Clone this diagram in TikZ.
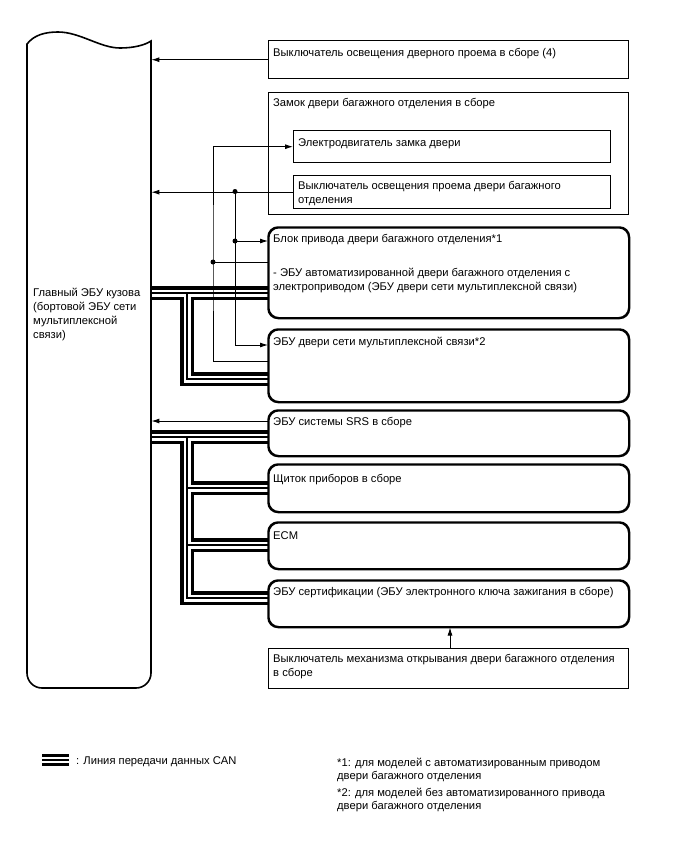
\documentclass[tikz,border=0pt]{standalone}
\usepackage{fontspec}
\setmainfont{Liberation Sans}
\usetikzlibrary{arrows.meta}
\begin{document}
\begin{tikzpicture}[x=1pt,y=-1pt,
  font=\fontsize{11.2}{14}\selectfont,
  sqbox/.style={draw, line width=1.4pt, fill=white, anchor=north west, inner sep=0pt},
  rbox/.style={sqbox, rounded corners=10pt, line width=1.5pt},
  lbl/.style={anchor=base west, inner sep=0pt, align=left},
  sig/.style={line width=0.9pt},
  arr/.style={-{Latex[length=8pt,width=5pt]}},
  dot/.style={circle, fill=black, inner sep=0pt, minimum size=5pt},
  line join=miter]
\useasboundingbox (0,0) rectangle (688,852);

% main box (frame node)
\node[inner sep=0pt, minimum width=124pt, minimum height=656pt, anchor=north west] (main) at (27,32) {};

% right-hand boxes
\node[sqbox, minimum width=360pt, minimum height=38pt] (door) at (268,40) {};
\node[sqbox, minimum width=360pt, minimum height=122pt] (lock) at (268,92) {};
\node[sqbox, minimum width=317pt, minimum height=32pt] (motor) at (293,130) {};
\node[sqbox, minimum width=317pt, minimum height=33pt] (sw) at (293,175) {};
\node[rbox, minimum width=360pt, minimum height=90pt] (blok) at (268,227) {};
\node[rbox, minimum width=360pt, minimum height=72pt] (edoor) at (268,329) {};
\node[rbox, minimum width=360pt, minimum height=45pt] (srs) at (268,410) {};
\node[rbox, minimum width=360pt, minimum height=47pt] (shch) at (268,464) {};
\node[rbox, minimum width=360pt, minimum height=46pt] (ecm) at (268,522) {};
\node[rbox, minimum width=360pt, minimum height=46pt] (cert) at (268,580) {};
\node[sqbox, minimum width=360pt, minimum height=40pt] (mech) at (268,648) {};

% CAN bus junction coordinates
\coordinate (c1) at (187,293);
\coordinate (c2) at (187,379);
\coordinate (c3) at (187,437);
\coordinate (c4) at (187,488);
\coordinate (c5) at (187,545);
\coordinate (c6) at (187,598);
\coordinate (lg1) at (42,760);
\coordinate (lg2) at (69,760);

% CAN buses (black / white / black layers)
\foreach \w/\c in {14/black, 7/white, 1.3/black} {
  \draw[line width=\w pt, \c] (main.east |- c1) -- (blok.west |- c1);
  \draw[line width=\w pt, \c] (c1) -- (c2) -- (edoor.west |- c2);
  \draw[line width=\w pt, \c] (main.east |- c3) -- (srs.west |- c3);
  \draw[line width=\w pt, \c] (c3) -- (c6) -- (cert.west |- c6);
  \draw[line width=\w pt, \c] (c4) -- (shch.west |- c4);
  \draw[line width=\w pt, \c] (c5) -- (ecm.west |- c5);
}
\foreach \w/\c in {12/black, 6/white, 1.6/black} {
  \draw[line width=\w pt, \c] (lg1) -- (lg2);
}

% redraw box borders over bus ends
\foreach \b in {blok, edoor, srs, shch, ecm, cert} {
  \draw[line width=1.5pt, rounded corners=10pt] (\b.north west) rectangle (\b.south east);
}

% main box outline
\draw[line width=1.6pt] (27,44) .. controls (34,35) and (45,32) .. (58,32)
  .. controls (80,32) and (100,48) .. (120,48)
  .. controls (134,48) and (145,45) .. (151,41)
  -- (151,673) arc[start angle=0, end angle=90, radius=15]
  -- (42,688) arc[start angle=90, end angle=180, radius=15] -- cycle;

% signal lines
\coordinate (d1) at (213,262);
\coordinate (d1b) at (213,361);
\coordinate (d2) at (235,191.5);
\coordinate (d3) at (235,241);
\coordinate (d4) at (235,345);
\coordinate (s1) at (268,421);
\coordinate (m1) at (450,648);

\draw[sig, arr] (door.west) -- (main.east |- door.west);
\draw[sig, arr] (sw.west) -- (main.east |- sw.west);
\draw[sig, arr] (edoor.west |- d1b) -- (d1b) -- (d1) |- (motor.west);
\draw[sig] (blok.west |- d1) -- (d1);
\draw[sig, arr] (d2) -- (d3) -- (blok.west |- d3);
\draw[sig, arr] (d3) -- (d4) -- (edoor.west |- d4);
\draw[sig, arr] (s1) -- (main.east |- s1);
\draw[sig, arr] (m1) -- (cert.south -| m1);

\node[dot] (p1) at (d1) {};
\node[dot] (p2) at (d2) {};
\node[dot] (p3) at (d3) {};

% texts (base anchor of multi-line nodes = last line's baseline)
\node[lbl] (tmain) at (33,338) {Главный ЭБУ кузова\\(бортовой ЭБУ сети\\мультиплексной\\связи)};
\node[lbl] (tdoor) at (273,56) {Выключатель освещения дверного проема в сборе (4)};
\node[lbl] (tlock) at (273,106) {Замок двери багажного отделения в сборе};
\node[lbl] (tmotor) at (298,146) {Электродвигатель замка двери};
\node[lbl] (tsw) at (298,203) {Выключатель освещения проема двери багажного\\отделения};
\node[lbl] (tblok) at (273,242) {Блок привода двери багажного отделения*1};
\node[lbl] (tblok2) at (273,290) {- ЭБУ автоматизированной двери багажного отделения с\\электроприводом (ЭБУ двери сети мультиплексной связи)};
\node[lbl] (tedoor) at (273,345) {ЭБУ двери сети мультиплексной связи*2};
\node[lbl] (tsrs) at (273,425) {ЭБУ системы SRS в сборе};
\node[lbl] (tshch) at (273,482) {Щиток приборов в сборе};
\node[lbl] (tecm) at (273,539) {ECM};
\node[lbl] (tcert) at (273,595) {ЭБУ сертификации (ЭБУ электронного ключа зажигания в сборе)};
\node[lbl] (tmech) at (273,676) {Выключатель механизма открывания двери багажного отделения\\в сборе};
\node[lbl] (tleg) at (76,764) {: Линия передачи данных CAN};
\node[lbl, font=\fontsize{11.2}{13}\selectfont] (tn1) at (337,779) {*1: для моделей с автоматизированным приводом\\двери багажного отделения};
\node[lbl, font=\fontsize{11.2}{13}\selectfont] (tn2) at (337,809) {*2: для моделей без автоматизированного привода\\двери багажного отделения};
\end{tikzpicture}
\end{document}
